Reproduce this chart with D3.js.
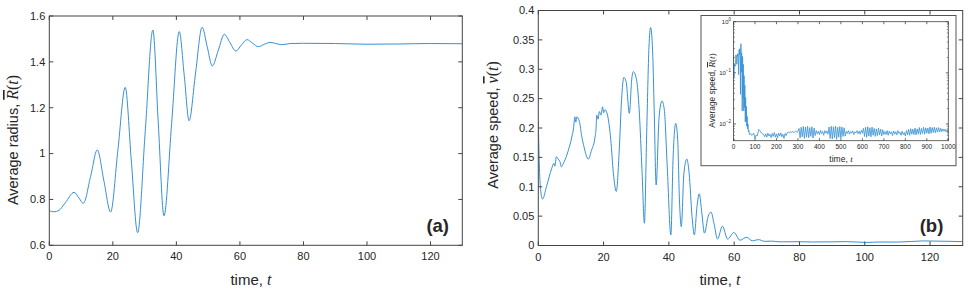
<!DOCTYPE html>
<html>
<head>
<meta charset="utf-8">
<script src="https://cdn.jsdelivr.net/npm/d3@7"></script>
<style>
  html, body { margin: 0; padding: 0; background: #fff; }
  svg { display: block; }
  text { font-family: "Liberation Sans", Arial, sans-serif; fill: #262626; }
</style>
</head>
<body>
<svg id="chart" width="969" height="293"></svg>
<script>
// ---------- DATA ----------
const radiusT = [0,1.5,3,5,7.8,9.3,10.7,13,15.1,17.2,19.3,21.6,23.9,25.8,27.8,30.2,32.6,34.3,36.1,38.5,40.9,42.5,44.0,46.0,48.1,49.7,51.3,53.2,55.1,56.9,58.7,60.4,62.2,64.0,65.8,67.6,69.5,71.3,73.1,76,80,90,100,110,120,130];
const radiusV = [0.751,0.746,0.752,0.785,0.831,0.807,0.783,0.900,1.016,0.880,0.745,1.017,1.289,0.972,0.655,1.097,1.539,1.134,0.729,1.130,1.532,1.337,1.143,1.347,1.551,1.466,1.382,1.451,1.520,1.483,1.447,1.472,1.497,1.481,1.466,1.476,1.485,1.480,1.475,1.480,1.481,1.480,1.477,1.478,1.480,1.479];

const speedT = [0,0.3,0.7,1.3,2.5,4.1,4.8,5.1,5.5,6.1,6.6,7.1,7.7,8.2,9.2,10.2,10.8,11.2,11.5,11.8,12.6,13.3,14.0,15.3,16.3,17.4,17.7,17.9,18.3,18.7,19.2,19.7,20.0,20.4,21.2,22.2,23.0,23.9,24.8,25.5,26.2,26.9,27.9,28.6,29.1,30.1,30.9,31.8,32.5,33.2,33.9,34.4,35.0,35.5,36.1,37.0,37.9,38.6,39.5,40.6,41.3,42.1,42.7,43.2,43.8,44.6,45.5,46.2,47.1,47.8,48.6,49.3,50.1,50.9,52.0,52.9,53.8,54.9,56.4,58.0,59.9,61.8,63.8,65.6,67.4,69.4,71.5,74,80,84,90,94.4,100.6,104.6,110,118,125,130];
const speedV = [0.211,0.140,0.095,0.079,0.100,0.131,0.140,0.135,0.151,0.147,0.143,0.134,0.140,0.146,0.162,0.183,0.200,0.219,0.210,0.219,0.211,0.186,0.168,0.147,0.162,0.185,0.200,0.222,0.215,0.228,0.222,0.236,0.226,0.231,0.222,0.180,0.123,0.092,0.163,0.248,0.286,0.279,0.225,0.282,0.296,0.282,0.231,0.123,0.038,0.191,0.338,0.371,0.333,0.231,0.103,0.219,0.246,0.231,0.134,0.018,0.151,0.208,0.180,0.083,0.032,0.123,0.147,0.123,0.049,0.018,0.066,0.088,0.055,0.021,0.049,0.057,0.038,0.011,0.033,0.011,0.022,0.009,0.014,0.008,0.010,0.007,0.0075,0.0062,0.0065,0.0060,0.0062,0.0066,0.0052,0.0060,0.0058,0.0078,0.0072,0.0066];

// long-run speed for inset, t = 140..1000 step 5
const longT0 = 140, longDt = 5;
const longV = [
  0.0062,0.0056,0.0064,0.0055,0.0066,0.0058,0.0063,0.0054,0.0065,0.0057,0.0068,0.0055,0.0064,0.0053,0.0066,0.0058,0.0067,0.0056,0.0063,0.0052,0.0065,0.0059,0.0068,
  0.0069,0.0066,0.0071,0.0068,0.0072,0.0067,0.0070,0.0073,0.0068,0.0071,
  0.0082,0.0053,0.0086,0.0056,0.0089,0.0052,0.0087,0.0055,0.0090,0.0054,0.0085,0.0057,0.0088,0.0053,0.0083,0.0059,
  0.0074,0.0064,0.0072,0.0062,0.0075,0.0065,0.0071,0.0060,0.0074,0.0066,0.0073,0.0063,
  0.0087,0.0052,0.0090,0.0051,0.0088,0.0054,0.0091,0.0050,0.0086,0.0055,0.0089,0.0053,0.0087,0.0057,0.0084,0.0058,
  0.0072,0.0065,0.0074,0.0063,0.0071,0.0066,0.0073,0.0062,0.0070,0.0067,0.0074,0.0064,0.0072,0.0063,0.0075,0.0066,
  0.0082,0.0057,0.0086,0.0055,0.0088,0.0058,0.0084,0.0056,0.0087,0.0060,0.0082,0.0057,0.0080,0.0059,0.0083,0.0061,0.0079,0.0058,0.0077,0.0062,
  0.0071,0.0062,0.0074,0.0060,0.0072,0.0064,0.0070,0.0059,0.0073,0.0063,0.0071,0.0061,0.0074,0.0065,0.0069,0.0060,0.0072,0.0062,0.0068,0.0058,
  0.0074,0.0061,0.0078,0.0060,0.0081,0.0063,0.0079,0.0062,0.0083,0.0061,0.0080,0.0064,0.0085,0.0062,0.0082,0.0065,0.0086,0.0063,0.0084,0.0066,
  0.0083,0.0064,0.0087,0.0066,0.0085,0.0068,0.0086,0.0067,0.0084,0.0069,0.0085,0.0070,0.0082,0.0071,0.0080,0.0072,0.0079,0.0070,0.0077,0.0064];

const xTicksMain = [0,20,40,60,80,100,120];
const yTicksA = [0.6,0.8,1,1.2,1.4,1.6];
const yTicksB = [0,0.05,0.1,0.15,0.2,0.25,0.3,0.35,0.4];
const xTicksInset = [0,100,200,300,400,500,600,700,800,900,1000];
const yTicksInset = [0.01,0.1,1];
const yTickInsetLabels = [["10","\u22122"],["10","\u22121"],["10","0"]];

// ---------- DRAW ----------
const svg = d3.select("#chart");
const lineColor = "#3690d4";
const axisColor = "#444";

function drawAxesBox(g, x, y, xt, yt, yfmt, tickLen, fontSize, opts) {
  const [x0, x1] = x.range();
  const [y0, y1] = y.range();
  const sw = opts.sw || 1;
  g.append("rect").attr("x", x0).attr("y", y1).attr("width", x1 - x0).attr("height", y0 - y1)
    .attr("fill", "none").attr("stroke", axisColor).attr("stroke-width", sw);
  xt.forEach(v => {
    const px = x(v);
    g.append("line").attr("x1", px).attr("x2", px).attr("y1", y0).attr("y2", y0 - tickLen).attr("stroke", axisColor).attr("stroke-width", sw);
    g.append("line").attr("x1", px).attr("x2", px).attr("y1", y1).attr("y2", y1 + tickLen).attr("stroke", axisColor).attr("stroke-width", sw);
    g.append("text").attr("x", px).attr("y", y0 + opts.xlabOff).attr("text-anchor", "middle")
      .attr("font-size", fontSize).text(v);
  });
  yt.forEach((v, i) => {
    const py = y(v);
    g.append("line").attr("x1", x0).attr("x2", x0 + tickLen).attr("y1", py).attr("y2", py).attr("stroke", axisColor).attr("stroke-width", sw);
    g.append("line").attr("x1", x1).attr("x2", x1 - tickLen).attr("y1", py).attr("y2", py).attr("stroke", axisColor).attr("stroke-width", sw);
    if (yfmt) {
      g.append("text").attr("x", x0 - opts.ylabOff).attr("y", py).attr("dy", "0.35em").attr("text-anchor", "end")
        .attr("font-size", fontSize).text(yfmt(v, i));
    }
  });
}

function mathLabel(sel, prefix, sym, fs, mfs) {
  sel.append("tspan").attr("font-size", fs).text(prefix);
  sel.append("tspan").attr("font-family","Liberation Serif, serif").attr("font-style","italic")
    .attr("font-size", mfs).attr("text-decoration","overline").text(sym);
  sel.append("tspan").attr("font-family","Liberation Serif, serif").attr("font-size", mfs).text("(");
  sel.append("tspan").attr("font-family","Liberation Serif, serif").attr("font-style","italic").attr("font-size", mfs).text("t");
  sel.append("tspan").attr("font-family","Liberation Serif, serif").attr("font-size", mfs).text(")");
}

// Panel (a)
const xA = d3.scaleLinear().domain([0,130]).range([49.3, 462.3]);
const yA = d3.scaleLinear().domain([0.6,1.6]).range([245.3, 16]);
const gA = svg.append("g");
gA.append("defs").append("clipPath").attr("id","clipA").append("rect")
  .attr("x", 49.3).attr("y", 16).attr("width", 413).attr("height", 229.3);
gA.append("path").datum(radiusT.map((t,i)=>[t, radiusV[i]]))
  .attr("clip-path","url(#clipA)")
  .attr("fill","none").attr("stroke", lineColor).attr("stroke-width", 1)
  .attr("d", d3.line().x(d=>xA(d[0])).y(d=>yA(d[1])).curve(d3.curveMonotoneX));
drawAxesBox(gA, xA, yA, xTicksMain, yTicksA, v => d3.format("~g")(v), 4, 11, {xlabOff: 15, ylabOff: 4});

const xlA = gA.append("text").attr("x", 251).attr("y", 285).attr("text-anchor","middle").attr("font-size", 15);
xlA.append("tspan").text("time, ");
xlA.append("tspan").attr("font-family","Liberation Serif, serif").attr("font-style","italic").attr("font-size",16).text("t");
const ylA = gA.append("text").attr("transform","translate(18,140) rotate(-90)").attr("text-anchor","middle");
mathLabel(ylA, "Average radius, ", "R", 14.5, 16);
gA.append("text").attr("x", 449).attr("y", 232).attr("text-anchor","end")
  .attr("font-family","Lato, sans-serif").attr("font-weight","bold").attr("font-size", 18.5).attr("fill","#111").text("(a)");

// Panel (b)
const xB = d3.scaleLinear().domain([0,130]).range([538.3, 962.7]);
const yB = d3.scaleLinear().domain([0,0.4]).range([245.5, 10.5]);
const gB = svg.append("g");
gB.append("defs").append("clipPath").attr("id","clipB").append("rect")
  .attr("x", 538.3).attr("y", 10.5).attr("width", 424.4).attr("height", 235);
gB.append("path").datum(speedT.map((t,i)=>[t, speedV[i]]))
  .attr("clip-path","url(#clipB)")
  .attr("fill","none").attr("stroke", lineColor).attr("stroke-width", 1)
  .attr("d", d3.line().x(d=>xB(d[0])).y(d=>yB(d[1])).curve(d3.curveMonotoneX));
drawAxesBox(gB, xB, yB, xTicksMain, yTicksB, v => d3.format("~g")(v), 4, 11, {xlabOff: 15, ylabOff: 4});

const xlB = gB.append("text").attr("x", 720).attr("y", 285).attr("text-anchor","middle").attr("font-size", 15);
xlB.append("tspan").text("time, ");
xlB.append("tspan").attr("font-family","Liberation Serif, serif").attr("font-style","italic").attr("font-size",16).text("t");
const ylB = gB.append("text").attr("transform","translate(498,125) rotate(-90)").attr("text-anchor","middle");
mathLabel(ylB, "Average speed, ", "v", 14.5, 16);
gB.append("text").attr("x", 943.3).attr("y", 232).attr("text-anchor","end")
  .attr("font-family","Lato, sans-serif").attr("font-weight","bold").attr("font-size", 18.5).attr("fill","#111").text("(b)");

// Inset
const gI = svg.append("g");
gI.append("rect").attr("x", 701).attr("y", 15.5).attr("width", 255).attr("height", 150.2)
  .attr("fill","#fff").attr("stroke","#555").attr("stroke-width", 1);
const xI = d3.scaleLinear().domain([0,1000]).range([733.5, 948.3]);
const yI = d3.scaleLog().domain([0.0047, 1]).range([140.7, 21.7]);
gI.append("defs").append("clipPath").attr("id","clipI").append("rect")
  .attr("x", 733.5).attr("y", 21.7).attr("width", 214.8).attr("height", 119);
const insetData = speedT.map((t,i)=>[t, speedV[i]]).concat(longV.map((v,i)=>[longT0 + i*longDt, v]));
gI.append("path").datum(insetData)
  .attr("clip-path","url(#clipI)")
  .attr("fill","none").attr("stroke", lineColor).attr("stroke-width", 0.8)
  .attr("d", d3.line().x(d=>xI(d[0])).y(d=>yI(d[1])));
drawAxesBox(gI, xI, yI, xTicksInset, yTicksInset, null, 2.5, 6.5, {xlabOff: 8.5, ylabOff: 2, sw: 0.8});
[0.005,0.006,0.007,0.008,0.009,0.02,0.03,0.04,0.05,0.06,0.07,0.08,0.09,0.2,0.3,0.4,0.5,0.6,0.7,0.8,0.9].forEach(v => {
  const py = yI(v);
  gI.append("line").attr("x1", 733.5).attr("x2", 735).attr("y1", py).attr("y2", py).attr("stroke", axisColor).attr("stroke-width", 0.6);
  gI.append("line").attr("x1", 948.3).attr("x2", 946.8).attr("y1", py).attr("y2", py).attr("stroke", axisColor).attr("stroke-width", 0.6);
});
yTicksInset.forEach((v,i) => {
  const t = gI.append("text").attr("x", 731).attr("y", yI(v)).attr("dy","0.35em").attr("text-anchor","end").attr("font-size", 6);
  t.append("tspan").text(yTickInsetLabels[i][0]);
  t.append("tspan").attr("font-size", 4.5).attr("dy", "-0.6em").text(yTickInsetLabels[i][1]);
});
const xlI = gI.append("text").attr("x", 841).attr("y", 162).attr("text-anchor","middle").attr("font-size", 8.5);
xlI.append("tspan").text("time, ");
xlI.append("tspan").attr("font-family","Liberation Serif, serif").attr("font-style","italic").attr("font-size",9).text("t");
const ylI = gI.append("text").attr("transform","translate(715,90.5) rotate(-90)").attr("text-anchor","middle");
mathLabel(ylI, "Average speed, ", "R", 8.3, 9);
</script>
</body>
</html>
